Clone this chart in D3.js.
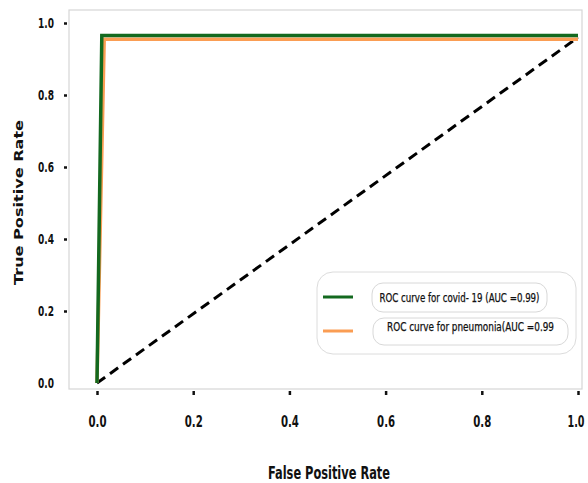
<!DOCTYPE html>
<html><head><meta charset="utf-8">
<script src="https://cdn.jsdelivr.net/npm/d3@7"></script>
<style>body{margin:0;background:#fff}svg{display:block}</style>
</head><body><svg id="c" width="588" height="483"></svg>
<script>
const xTicks = [0, 0.2, 0.4, 0.6, 0.8, 1.0];
const yTicks = [0, 0.2, 0.4, 0.6, 0.8, 1.0];
const covidFPR = [0, 0.01, 1];
const covidTPR = [0, 0.965, 0.965];
const pneuFPR = [0, 0.015, 1];
const pneuTPR = [0, 0.955, 0.955];
const diagFPR = [0, 1];
const diagTPR = [0, 0.96];
const legendLabels = ["ROC curve for covid- 19 (AUC =0.99)", "ROC curve for pneumonia(AUC =0.99"];
const colors = ["#13691f", "#fa9d53"];

const svg = d3.select("#c");
const x = d3.scaleLinear().domain([0, 1]).range([97, 578]);
const y = d3.scaleLinear().domain([0, 1]).range([383, 23]);
const font = "'DejaVu Sans Condensed', 'DejaVu Sans', sans-serif";

// frame
svg.append("rect").attr("x", 69).attr("y", 10).attr("width", 513).attr("height", 379)
  .attr("fill", "none").attr("stroke", "#d6d6d6").attr("stroke-width", 1.2);

// y ticks
const ya = svg.append("g").attr("transform", "translate(67,0)")
  .call(d3.axisLeft(y).tickValues(yTicks).tickFormat(d3.format(".1f")).tickSize(3).tickPadding(10));
ya.select(".domain").remove();
ya.selectAll("line").attr("stroke", "#111").attr("stroke-width", 2.5)
  .attr("stroke-opacity", d => d === 0 ? 0 : 1);
ya.selectAll("text").attr("font-family", font).attr("font-weight", "bold").attr("font-size", 14)
  .attr("fill", "#111").attr("textLength", 16).attr("lengthAdjust", "spacingAndGlyphs");

const xa = svg.append("g").attr("transform", "translate(0,391)")
  .call(d3.axisBottom(x).tickValues(xTicks).tickFormat(d3.format(".1f")).tickSize(4).tickPadding(21));
xa.select(".domain").remove();
xa.selectAll("line").attr("stroke", "#111").attr("stroke-width", 2.5);
xa.selectAll("text").attr("font-family", font).attr("font-weight", "bold").attr("font-size", 16)
  .attr("fill", "#111").attr("textLength", 18).attr("lengthAdjust", "spacingAndGlyphs");
xa.selectAll("text").filter(d => d === 1).attr("text-anchor", "end").attr("x", 6).attr("textLength", 17);

const line = d3.line().x(d => x(d[0])).y(d => y(d[1]));

svg.append("path").datum(diagFPR.map((v, i) => [v, diagTPR[i]])).attr("d", line)
  .attr("fill", "none").attr("stroke", "#000").attr("stroke-width", 3).attr("stroke-dasharray", "10,6");
svg.append("path").datum(pneuFPR.map((v, i) => [v, pneuTPR[i]])).attr("d", line)
  .attr("fill", "none").attr("stroke", colors[1]).attr("stroke-width", 3.5);
svg.append("path").datum(covidFPR.map((v, i) => [v, covidTPR[i]])).attr("d", line)
  .attr("fill", "none").attr("stroke", colors[0]).attr("stroke-width", 3.5);

// axis titles
svg.append("text").attr("x", 329).attr("y", 479).attr("text-anchor", "middle")
  .attr("font-family", font).attr("font-weight", "bold").attr("font-size", 17.5).attr("fill", "#111")
  .attr("textLength", 122).attr("lengthAdjust", "spacingAndGlyphs")
  .text("False Positive Rate");
svg.append("text").attr("transform", "translate(23,202.5) rotate(-90)").attr("text-anchor", "middle")
  .attr("font-family", "'DejaVu Sans', sans-serif").attr("font-weight", "bold").attr("font-size", 13)
  .attr("textLength", 165).attr("lengthAdjust", "spacingAndGlyphs")
  .attr("fill", "#111").text("True Positive Rate");

// legend
const lg = svg.append("g");
lg.append("rect").attr("x", 317).attr("y", 272).attr("width", 259).attr("height", 82).attr("rx", 16)
  .attr("fill", "#fff").attr("stroke", "#dcdcdc").attr("stroke-width", 1);
const boxes = [[372, 283, 175, 29, 160, 302], [373, 318, 195, 27, 167, 331]];
legendLabels.forEach((lab, i) => {
  const b = boxes[i];
  const ly = i === 0 ? 297 : 331;
  lg.append("line").attr("x1", 323).attr("x2", 353).attr("y1", ly).attr("y2", ly)
    .attr("stroke", colors[i]).attr("stroke-width", 3);
  lg.append("rect").attr("x", b[0]).attr("y", b[1]).attr("width", b[2]).attr("height", b[3]).attr("rx", 11)
    .attr("fill", "#fff").attr("stroke", "#d8d8d8").attr("stroke-width", 1);
  lg.append("text").attr("x", b[0] + b[2] / 2).attr("y", b[5]).attr("text-anchor", "middle")
    .attr("font-family", font).attr("font-size", 11.5).attr("fill", "#111")
    .attr("stroke", "#111").attr("stroke-width", 0.25)
    .attr("textLength", b[4]).attr("lengthAdjust", "spacingAndGlyphs").text(lab);
});
</script></body></html>
